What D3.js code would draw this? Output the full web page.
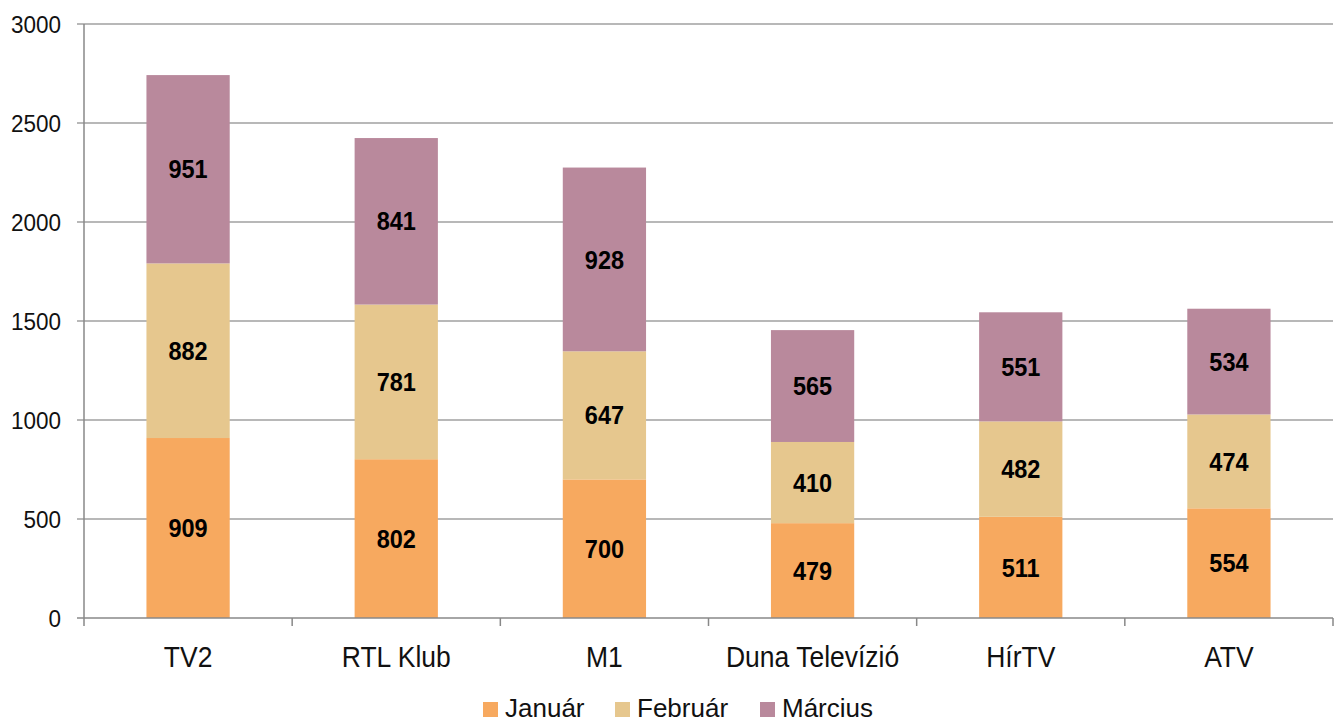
<!DOCTYPE html>
<html>
<head>
<meta charset="utf-8">
<script src="https://cdn.jsdelivr.net/npm/d3@7"></script>
<style>
  body { margin: 0; background: #fff; }
  text { font-family: "Liberation Sans", Arial, sans-serif; }
</style>
</head>
<body>
<div id="chart"></div>
<script>
// data
const channels = ["TV2", "RTL Klub", "M1", "Duna Televízió", "HírTV", "ATV"];
const months = ["Január", "Február", "Március"];
const januar = [909, 802, 700, 479, 511, 554];
const februar = [882, 781, 647, 410, 482, 474];
const marcius = [951, 841, 928, 565, 551, 534];
const yTicks = [0, 500, 1000, 1500, 2000, 2500, 3000];
const colors = ["#F7A95F", "#E6C78E", "#B9899C"];

const W = 1339, H = 724;
const margin = {top: 24, right: 6, bottom: 106, left: 84};
const width = W - margin.left - margin.right,
      height = H - margin.top - margin.bottom;

const svg = d3.select("#chart").append("svg")
  .attr("width", W).attr("height", H)
  .append("g")
  .attr("transform", `translate(${margin.left},${margin.top})`);

const rows = channels.map((c, i) => ({channel: c, "Január": januar[i], "Február": februar[i], "Március": marcius[i]}));
const series = d3.stack().keys(months)(rows);

const x = d3.scaleBand().domain(channels).range([0, width]).paddingInner(0.6).paddingOuter(0.3);
const xb = d3.scaleBand().domain(channels).range([0, width]);
const y = d3.scaleLinear().domain([0, 3000]).range([height, 0]);

// the original text is a little taller than wide
const stretch = (px, py, sy) => `translate(${px},${py}) scale(1,${sy})`;

// gridlines
svg.append("g").selectAll("line")
  .data(yTicks.filter(d => d > 0))
  .join("line")
  .attr("x1", -7).attr("x2", width)
  .attr("y1", d => y(d)).attr("y2", d => y(d))
  .attr("stroke", "#a0a0a0").attr("stroke-width", 1.3);

// y tick labels
svg.append("g").selectAll("text")
  .data(yTicks)
  .join("text")
  .attr("transform", d => stretch(-23, y(d), 1.1))
  .attr("dy", "0.36em")
  .attr("text-anchor", "end")
  .attr("font-size", 22.5)
  .attr("fill", "#111")
  .text(d => d);

// bars
svg.append("g").selectAll("g")
  .data(series)
  .join("g")
  .attr("fill", (d, i) => colors[i])
  .selectAll("rect")
  .data(d => d)
  .join("rect")
  .attr("x", d => x(d.data.channel))
  .attr("y", d => y(d[1]))
  .attr("width", x.bandwidth())
  .attr("height", d => y(d[0]) - y(d[1]));

// data labels
svg.append("g").selectAll("g")
  .data(series)
  .join("g")
  .selectAll("text")
  .data(d => d.map(v => ({v: v, val: v[1] - v[0]})))
  .join("text")
  .attr("transform", d => stretch(x(d.v.data.channel) + x.bandwidth() / 2, y((d.v[0] + d.v[1]) / 2), 1.08))
  .attr("dy", "0.36em")
  .attr("text-anchor", "middle")
  .attr("font-size", 23.5)
  .attr("font-weight", "bold")
  .attr("fill", "#000")
  .text(d => d.val);

// axes lines
svg.append("line")
  .attr("x1", 0).attr("x2", 0).attr("y1", 0).attr("y2", height)
  .attr("stroke", "#888").attr("stroke-width", 1.5);
svg.append("line")
  .attr("x1", -7).attr("x2", width).attr("y1", height).attr("y2", height)
  .attr("stroke", "#888").attr("stroke-width", 1.5);

// category ticks
const bounds = channels.map(c => xb(c)).concat([width]);
svg.append("g").selectAll("line")
  .data(bounds)
  .join("line")
  .attr("x1", d => d).attr("x2", d => d)
  .attr("y1", height).attr("y2", height + 8)
  .attr("stroke", "#888").attr("stroke-width", 1.5);

// category labels
svg.append("g").selectAll("text")
  .data(channels)
  .join("text")
  .attr("transform", d => stretch(xb(d) + xb.bandwidth() / 2, height + 39, 1.1))
  .attr("dy", "0.36em")
  .attr("text-anchor", "middle")
  .attr("font-size", 26.5)
  .attr("fill", "#111")
  .text(d => d);

// legend
const legendX = [483 - margin.left, 615 - margin.left, 760 - margin.left];
const legend = svg.append("g").attr("transform", `translate(0,${H - margin.top - 16})`);
const li = legend.selectAll("g")
  .data(months)
  .join("g")
  .attr("transform", (d, i) => `translate(${legendX[i]},0)`);
li.append("rect")
  .attr("x", 0).attr("y", -6).attr("width", 15).attr("height", 15)
  .attr("fill", (d, i) => colors[i]);
li.append("text")
  .attr("x", 22).attr("y", 0)
  .attr("dy", "0.36em")
  .attr("font-size", 26)
  .attr("fill", "#111")
  .text(d => d);
</script>
</body>
</html>
